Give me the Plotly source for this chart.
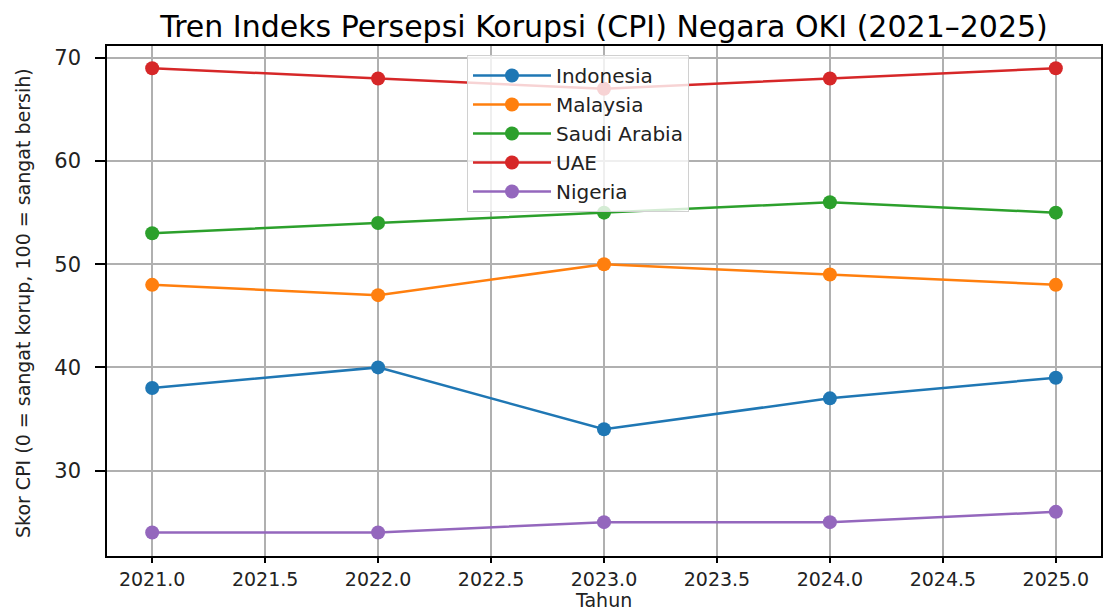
import plotly.graph_objects as go

years = [2021, 2022, 2023, 2024, 2025]
countries = ["Indonesia", "Malaysia", "Saudi Arabia", "UAE", "Nigeria"]
indonesia = [38, 40, 34, 37, 39]
malaysia = [48, 47, 50, 49, 48]
saudi = [53, 54, 55, 56, 55]
uae = [69, 68, 67, 68, 69]
nigeria = [24, 24, 25, 25, 26]
colors = ["#1f77b4", "#ff7f0e", "#2ca02c", "#d62728", "#9467bd"]

series = [indonesia, malaysia, saudi, uae, nigeria]

fig = go.Figure()
for name, vals, c in zip(countries, series, colors):
    fig.add_trace(go.Scatter(
        x=years, y=vals, name=name, mode="lines+markers",
        line=dict(color=c, width=2.5),
        marker=dict(color=c, size=14, symbol="circle"),
    ))

font = "DejaVu Sans, sans-serif"
W, H = 1108, 612
L, R, T, B = 107, 7, 46, 56
PW, PH = W - L - R, H - T - B
fig.update_layout(
    width=W, height=H,
    margin=dict(l=L, r=R, t=T, b=B, autoexpand=False),
    paper_bgcolor="white", plot_bgcolor="white",
    title=dict(text="Tren Indeks Persepsi Korupsi (CPI) Negara OKI (2021–2025)",
               x=0.5, xref="paper", xanchor="center",
               y=1 - 26 / H, yref="container", yanchor="middle",
               font=dict(family=font, size=30, color="black")),
    legend=dict(x=(467 - L) / PW, y=(H - B - 55) / PH, xanchor="left", yanchor="top",
                bgcolor="rgba(255,255,255,0.8)", bordercolor="#d0d0d0",
                borderwidth=1, font=dict(family=font, size=20, color="#222222"),
                tracegroupgap=0, itemwidth=78),
    showlegend=True,
    annotations=[
        dict(text="Skor CPI (0 = sangat korup, 100 = sangat bersih)",
             xref="paper", yref="paper", x=-(L - 23) / PW, y=(H - B - 303) / PH,
             xanchor="center", yanchor="middle", textangle=-90, showarrow=False,
             font=dict(family=font, size=19, color="#222222")),
        dict(text="Tahun", xref="paper", yref="paper",
             x=(603 - L) / PW, y=-(600 - (H - B)) / PH,
             xanchor="center", yanchor="middle", showarrow=False,
             font=dict(family=font, size=19, color="#222222")),
    ],
)
fig.update_xaxes(
    range=[2020.8, 2025.2], tick0=2021, dtick=0.5, tickformat=".1f",
    showgrid=True, gridcolor="#b0b0b0", gridwidth=1.5,
    showline=True, linecolor="black", linewidth=1.5, mirror=True,
    ticks="outside", ticklen=5, tickwidth=1.5, tickcolor="black",
    tickfont=dict(family=font, size=19, color="#222222"),
    zeroline=False, automargin=False,
)
fig.update_yaxes(
    range=[21.72, 71.15], tick0=30, dtick=10,
    showgrid=True, gridcolor="#b0b0b0", gridwidth=1.5,
    showline=True, linecolor="black", linewidth=1.5, mirror=True,
    ticks="outside", ticklen=10, tickwidth=1.5, tickcolor="black",
    tickfont=dict(family=font, size=21, color="#222222"),
    ticklabelstandoff=10,
    zeroline=False, automargin=False,
)

fig.write_html("out.html", config={"displayModeBar": False},
               post_script="document.body.style.margin='0px';")
